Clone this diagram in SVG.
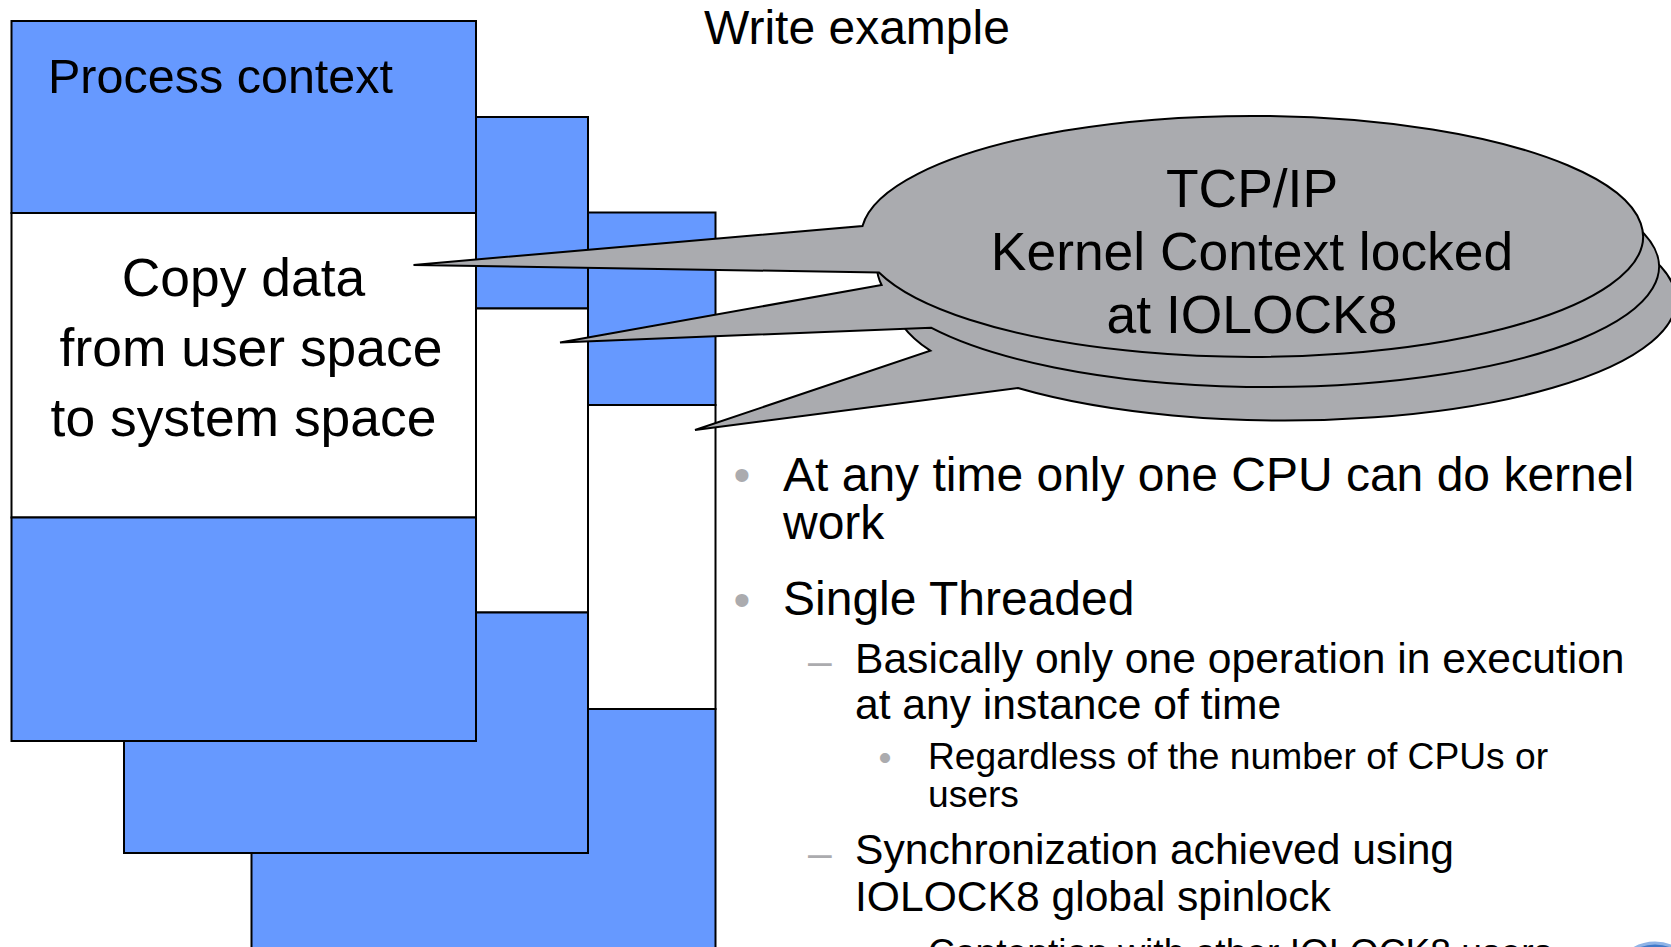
<svg xmlns="http://www.w3.org/2000/svg" width="1671" height="947" viewBox="0 0 1671 947">
  <defs>
    <style>
      .blue { fill: #6699FF; stroke: #000; stroke-width: 2; }
      .white { fill: #FFFFFF; stroke: #000; stroke-width: 2; }
      .bubble { fill: #AAABAF; stroke: #000; stroke-width: 2; stroke-linejoin: miter; }
      text { font-family: "Liberation Sans", Arial, Helvetica, sans-serif; fill: #000; }
      .big { font-size: 53.4px; }
      .title { font-size: 48px; }
      .ctx { font-size: 48.5px; }
      .l1 { font-size: 48px; }
      .l2 { font-size: 42.6px; }
      .l3 { font-size: 37.2px; }
      .mark { fill: #ABABAE; }
    </style>
  </defs>
  <rect width="1671" height="947" fill="#FFFFFF"/>

  <g id="title">
    <text class="title" x="704" y="44">Write example</text>
  </g>

  <g id="card-back">
    <rect class="blue" x="251.5" y="212.5" width="464" height="192.5"/>
    <rect class="white" x="251.5" y="405" width="464" height="304"/>
    <rect class="blue" x="251.5" y="709" width="464" height="240"/>
  </g>

  <g id="card-middle">
    <rect class="blue" x="124" y="117" width="464" height="191.5"/>
    <rect class="white" x="124" y="308.5" width="464" height="304"/>
    <rect class="blue" x="124" y="612.5" width="464" height="240.5"/>
  </g>

  <g id="card-front">
    <rect class="blue" x="11.5" y="21" width="464.5" height="192"/>
    <rect class="white" x="11.5" y="213" width="464.5" height="304.5"/>
    <rect class="blue" x="11.5" y="517.5" width="464.5" height="223.5"/>
    <text class="ctx" x="48" y="93">Process context</text>
    <text class="big" x="243.5" y="296" text-anchor="middle">Copy data</text>
    <text class="big" x="251" y="366" text-anchor="middle">from user space</text>
    <text class="big" x="243.5" y="436" text-anchor="middle">to system space</text>
  </g>

  <g id="callouts">
    <path class="bubble" d="M 695 430 L 930.3 350.7 A 391 120.5 0 1 1 1017.9 388 Z"/>
    <path class="bubble" d="M 560 342.5 L 881.6 285 A 391 120.5 0 1 1 931 327.7 Z"/>
    <path class="bubble" d="M 413.5 265 L 862.5 226 A 391 120.5 0 1 1 879 272.5 Z"/>
    <text class="big" x="1252" y="207" text-anchor="middle">TCP/IP</text>
    <text class="big" x="1252" y="270" text-anchor="middle">Kernel Context locked</text>
    <text class="big" x="1252" y="333" text-anchor="middle">at IOLOCK8</text>
  </g>

  <g id="bullets">
    <text class="l1 mark" x="742" y="491" text-anchor="middle">•</text>
    <text class="l1" x="783" y="491">At any time only one CPU can do kernel</text>
    <text class="l1" x="783" y="539">work</text>
    <text class="l1 mark" x="742" y="616" text-anchor="middle">•</text>
    <text class="l1" x="783" y="615">Single Threaded</text>

    <text class="l2 mark" x="808" y="675">–</text>
    <text class="l2" x="855" y="672.5">Basically only one operation in execution</text>
    <text class="l2" x="855" y="719">at any instance of time</text>

    <text class="l3 mark" x="885" y="770" text-anchor="middle">•</text>
    <text class="l3" x="928" y="769">Regardless of the number of CPUs or</text>
    <text class="l3" x="928" y="807">users</text>

    <text class="l2 mark" x="808" y="867">–</text>
    <text class="l2" x="855" y="864">Synchronization achieved using</text>
    <text class="l2" x="855" y="911">IOLOCK8 global spinlock</text>

    <text class="l3 mark" x="885" y="966" text-anchor="middle">•</text>
    <text class="l3" x="928" y="965">Contention with other IOLOCK8 users</text>
  </g>

  <g id="logo">
    <ellipse cx="1655" cy="985" rx="42" ry="42" fill="#3F78C8" stroke="#8FB3E6" stroke-width="3"/>
  </g>
</svg>
